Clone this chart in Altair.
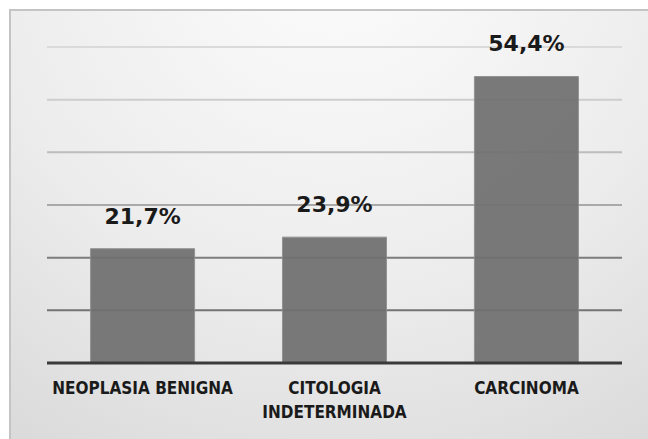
import altair as alt
import pandas as pd

# Chart data
categories = ["NEOPLASIA BENIGNA", "CITOLOGIA\nINDETERMINADA", "CARCINOMA"]
percentages = [21.7, 23.9, 54.4]
value_labels = ["21,7%", "23,9%", "54,4%"]
grid_values = [10, 20, 30, 40, 50, 60]

bars_df = pd.DataFrame({"categoria": categories, "pct": percentages, "rotulo": value_labels})
grid_df = pd.DataFrame({"nivel": grid_values})
base_df = pd.DataFrame({"base": [0]})

W, H = 575, 316

x_enc = alt.X(
    "categoria:N",
    sort=categories,
    axis=None,
    scale=alt.Scale(paddingInner=0.458, paddingOuter=0.227),
)
y_scale = alt.Scale(domain=[0, 60], nice=False, zero=True)

# Soft gradient panel behind the plot, with a thin frame
panel = alt.Chart(base_df).mark_rect(
    fill={
        "gradient": "radial",
        "x1": 0.5, "y1": 0.05, "r1": 0,
        "x2": 0.5, "y2": 0.05, "r2": 1.0,
        "stops": [
            {"offset": 0, "color": "#fdfdfd"},
            {"offset": 0.55, "color": "#ececec"},
            {"offset": 1, "color": "#d6d6d6"},
        ],
    },
    stroke="#c4c4c4",
    strokeWidth=2,
).encode(
    x=alt.value(-37), x2=alt.value(W + 40),
    y=alt.value(-37), y2=alt.value(H + 90),
)

# Horizontal gridlines, darker toward the bottom
grid = alt.Chart(grid_df).mark_rule(strokeWidth=2).encode(
    y=alt.Y("nivel:Q", scale=y_scale, axis=None),
    color=alt.Color(
        "nivel:Q",
        scale=alt.Scale(
            domain=grid_values,
            range=["#737373", "#7d7d7d", "#a9a9a9", "#bdbdbd", "#cdcdcd", "#dadada"],
        ),
        legend=None,
    ),
)

bars = alt.Chart(bars_df).mark_bar(
    color="#707070", opacity=0.93, stroke="#8c8c8c", strokeWidth=1
).encode(
    x=x_enc,
    y=alt.Y("pct:Q", scale=y_scale, axis=None),
)

baseline = alt.Chart(base_df).mark_rule(color="#3a3a3a", strokeWidth=3).encode(
    y=alt.Y("base:Q", scale=y_scale, axis=None),
)

values = alt.Chart(bars_df).mark_text(
    dy=-25, baseline="alphabetic", font="DejaVu Sans", fontWeight="bold",
    fontSize=22, color="#1a1a1a",
).encode(
    x=x_enc,
    y=alt.Y("pct:Q", scale=y_scale, axis=None),
    text="rotulo:N",
)

cat_labels = alt.Chart(bars_df).mark_text(
    lineBreak="\n", lineHeight=23.5, baseline="alphabetic",
    font="DejaVu Sans Condensed", fontWeight="bold", fontSize=17, color="#1a1a1a",
).encode(
    x=x_enc,
    y=alt.value(H + 31),
    text="categoria:N",
)

chart = alt.layer(panel, grid, bars, baseline, values, cat_labels).properties(
    width=W,
    height=H,
    autosize=alt.AutoSizeParams(type="none"),
    padding={"left": 47, "top": 47, "right": 26, "bottom": 76},
    background="white",
).configure_view(stroke=None)

chart.save("out.html", embed_options={"renderer": "svg", "actions": False})
